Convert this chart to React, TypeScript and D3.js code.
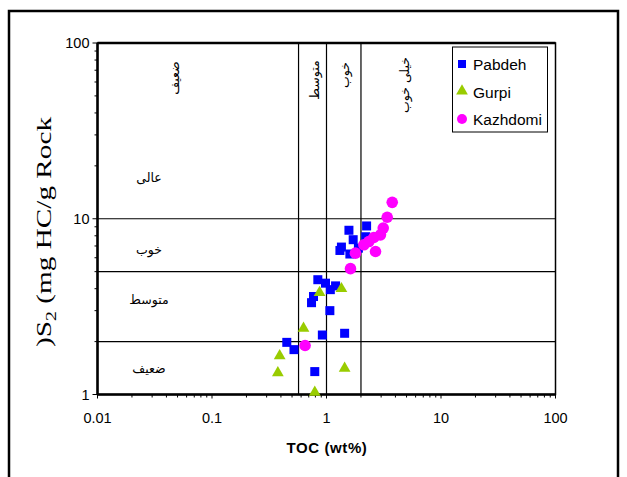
import React from 'react';
import * as d3 from 'd3';

// TOC (wt%) and S2 (mg HC/g Rock)
const pabdehToc = [2.24, 1.57, 2.2, 1.71, 1.35, 1.31, 1.6, 1.9, 0.84, 0.98, 1.2, 1.08, 0.77, 0.74, 1.07, 0.92, 1.44, 0.45, 0.52, 0.79];
const pabdehS2 = [9.1, 8.6, 7.9, 7.6, 6.9, 6.6, 6.3, 6.8, 4.5, 4.3, 4.15, 3.95, 3.61, 3.33, 3.0, 2.18, 2.23, 1.98, 1.8, 1.35];

const gurpiToc = [0.87, 1.35, 0.63, 0.39, 0.376, 1.44, 0.79];
const gurpiS2 = [3.8, 4.0, 2.38, 1.66, 1.33, 1.41, 1.03];

const kazhdomiToc = [3.75, 3.39, 3.13, 2.96, 2.59, 2.34, 2.12, 2.68, 1.79, 1.62, 0.65];
const kazhdomiS2 = [12.4, 10.2, 8.85, 8.1, 7.82, 7.42, 7.11, 6.51, 6.37, 5.2, 1.9];

const xTicks = [0.01, 0.1, 1, 10, 100];
const yTicks = [1, 10, 100];
const tocLimits = [0.57, 1, 2];
const s2Limits = [2, 5, 10];
const tocZones = ['ضعیف', 'متوسط', 'خوب', 'خیلی خوب'];
const s2Zones = ['عالی', 'خوب', 'متوسط', 'ضعیف'];
const s2ZoneAt = [17, 6.6, 3.45, 1.4];

const W = 627, H = 477;
const L = 97.5, R = 555.5, T = 43, B = 394.5;

export default function App() {
  const x = d3.scaleLog().domain([0.01, 100]).range([L, R]);
  const y = d3.scaleLog().domain([1, 100]).range([B, T]);

  // minor ticks 2..9 in every decade
  const minorX: number[] = [];
  for (let d = 0.01; d < 100; d *= 10) for (let k = 2; k <= 9; k++) minorX.push(d * k);
  const minorY: number[] = [];
  for (let d = 1; d < 100; d *= 10) for (let k = 2; k <= 9; k++) minorY.push(d * k);

  // where the vertical TOC zone labels sit
  const tocZoneX = [179, 319, 349, 409];
  const tocZoneY = [78, 80, 75, 85];

  const font = 'Arial, "Liberation Sans", sans-serif';
  const arab = '"DejaVu Sans", sans-serif';
  const tri = d3.symbol().type(d3.symbolTriangle).size(60)() as string;

  return (
    <svg width={W} height={H} style={{ position: 'absolute', left: 0, top: 0 }}>
      <rect x={0} y={0} width={W} height={H} fill="#fff" />
      <rect x={9} y={11} width={609} height={490} fill="none" stroke="#000" strokeWidth={2.5} />

      {/* plot frame */}
      <rect x={L} y={T} width={R - L} height={B - T} fill="none" stroke="#000" strokeWidth={1.5} />
      <line x1={L} x2={R} y1={T} y2={T} stroke="#000" strokeWidth={2.5} />
      <line x1={L} x2={L} y1={T} y2={B} stroke="#000" strokeWidth={2.5} />
      <line x1={L} x2={R} y1={B} y2={B} stroke="#000" strokeWidth={2.5} />

      {/* classification lines */}
      {tocLimits.map((v) => (
        <line key={'v' + v} x1={x(v)} x2={x(v)} y1={T} y2={B} stroke="#000" strokeWidth={1.2} />
      ))}
      {s2Limits.map((v) => (
        <line key={'h' + v} x1={L} x2={R} y1={y(v)} y2={y(v)} stroke="#000" strokeWidth={1.2} />
      ))}

      {/* x ticks */}
      {minorX.map((v, i) => (
        <line key={'mx' + i} x1={x(v)} x2={x(v)} y1={B} y2={B + 3} stroke="#000" />
      ))}
      {xTicks.map((v) => (
        <g key={'x' + v}>
          <line x1={x(v)} x2={x(v)} y1={B} y2={B + 4} stroke="#000" />
          <text x={x(v)} y={423} textAnchor="middle" fontFamily={font} fontSize={14.5}>{v}</text>
        </g>
      ))}
      {/* y ticks */}
      {minorY.map((v, i) => (
        <line key={'my' + i} x1={L - 3} x2={L} y1={y(v)} y2={y(v)} stroke="#000" />
      ))}
      {yTicks.map((v) => (
        <g key={'y' + v}>
          <line x1={L - 5} x2={L} y1={y(v)} y2={y(v)} stroke="#000" />
          <text x={L - 8} y={y(v) + 5} textAnchor="end" fontFamily={font} fontSize={14.5}>{v}</text>
        </g>
      ))}

      <text x={327} y={453} textAnchor="middle" fontFamily={font} fontSize={15} fontWeight="bold" letterSpacing={0.6}>TOC (wt%)</text>
      <text transform="translate(51,232) rotate(-90) scale(1.33,1)" textAnchor="middle" fontFamily='"Liberation Serif", "Times New Roman", serif' fontSize={22}>
        )S<tspan fontSize={15} dy={5}>2</tspan><tspan dy={-5}> (mg HC/g Rock</tspan>
      </text>

      {/* zone labels */}
      {tocZones.map((t, i) => (
        <text key={'tz' + i} transform={`translate(${tocZoneX[i]},${tocZoneY[i]}) rotate(-90)`} textAnchor="middle"
          fontFamily={arab} fontSize={12.5}>{t}</text>
      ))}
      {s2Zones.map((t, i) => (
        <text key={'sz' + i} x={149} y={y(s2ZoneAt[i]) + 4} textAnchor="middle" fontFamily={arab} fontSize={12.5}>{t}</text>
      ))}

      {/* data */}
      {pabdehToc.map((v, i) => (
        <rect key={'p' + i} x={x(v) - 4.5} y={y(pabdehS2[i]) - 4.5} width={9} height={9} fill="#0000ff" />
      ))}
      {gurpiToc.map((v, i) => (
        <path key={'g' + i} d={tri} transform={`translate(${x(v)},${y(gurpiS2[i])})`} fill="#99cc00" />
      ))}
      {kazhdomiToc.map((v, i) => (
        <circle key={'k' + i} cx={x(v)} cy={y(kazhdomiS2[i])} r={5.8} fill="#ff00ff" />
      ))}

      {/* legend */}
      <rect x={452.5} y={47} width={95} height={85} fill="#fff" stroke="#000" strokeWidth={1} />
      <rect x={458} y={60} width={8} height={8} fill="#0000ff" />
      <path d={tri} transform="translate(462,91)" fill="#99cc00" />
      <circle cx={462} cy={119} r={5} fill="#ff00ff" />
      <text x={473} y={69.5} fontFamily={font} fontSize={15.5}>Pabdeh</text>
      <text x={473} y={97.5} fontFamily={font} fontSize={15.5}>Gurpi</text>
      <text x={473} y={124.5} fontFamily={font} fontSize={15.5}>Kazhdomi</text>
    </svg>
  );
}
